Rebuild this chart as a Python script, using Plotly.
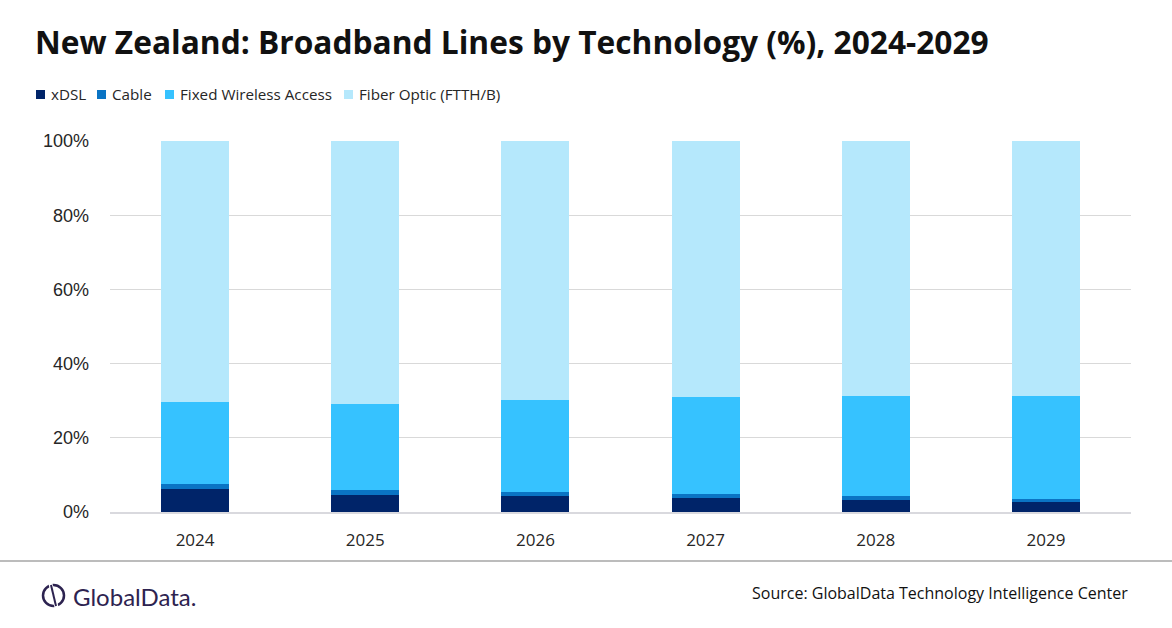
import plotly.graph_objects as go

years = ['2024', '2025', '2026', '2027', '2028', '2029']
xdsl = [6.2, 4.6, 4.3, 3.8, 3.2, 2.7]
cable = [1.3, 1.3, 1.1, 1.0, 1.1, 0.8]
fwa = [22.1, 23.1, 24.7, 26.1, 27.1, 27.9]
fiber = [70.4, 71.0, 69.9, 69.1, 68.6, 68.6]
y_ticks = [0, 20, 40, 60, 80, 100]
y_labels = ['0%', '20%', '40%', '60%', '80%', '100%']

series = [
    ('xDSL', xdsl, '#002469'),
    ('Cable', cable, '#0A74C4'),
    ('Fixed Wireless Access', fwa, '#36C2FF'),
    ('Fiber Optic (FTTH/B)', fiber, '#B5E8FC'),
]

W, H = 1172, 628
L, R, T, B = 110, 41, 141, 116
PW, PH = W - L - R, H - T - B


def px(x):
    return (x - L) / PW


def py(y):
    return (H - B - y) / PH


fig = go.Figure()
for name, vals, col in series:
    fig.add_trace(go.Bar(x=years, y=vals, name=name, marker_color=col, marker_line_width=0))

fig.update_layout(
    barmode='stack', bargap=0.6,
    width=W, height=H,
    margin=dict(l=L, r=R, t=T, b=B),
    paper_bgcolor='white', plot_bgcolor='white',
    font=dict(family='Liberation Sans', size=17, color='#262626'),
    title=dict(text='<b>New Zealand: Broadband Lines by Technology (%), 2024-2029</b>',
               x=35 / W, xanchor='left', y=1 - 43 / H, yanchor='middle',
               font=dict(family='Open Sans', size=31.7, color='#111111')),
    showlegend=False,
)
fig.update_yaxes(range=[0, 100], tickvals=y_ticks, ticktext=y_labels,
                 showgrid=True, gridcolor='#D9D9D9', gridwidth=1, zeroline=False,
                 showline=False, ticks='', ticklabelstandoff=20,
                 tickfont=dict(family='Liberation Sans', size=18, color='#262626'))
fig.update_xaxes(showline=True, linecolor='#D9D9DE', linewidth=1.5, ticks='',
                 tickfont=dict(family='Open Sans', size=17, color='#262626'), ticklabelstandoff=12)

# legend drawn by hand to match spacing
leg_sq = [36, 97, 165, 344]
for (name, vals, col), x0 in zip(series, leg_sq):
    fig.add_shape(type='rect', xref='paper', yref='paper',
                  x0=px(x0), x1=px(x0 + 9), y0=py(99), y1=py(90),
                  fillcolor=col, line_width=0)
    fig.add_annotation(text=name, xref='paper', yref='paper',
                       x=px(x0 + 13), xanchor='left', y=py(94), yanchor='middle',
                       showarrow=False, font=dict(family='Open Sans', size=15.2, color='#262626'))

# footer line
fig.add_shape(type='line', xref='paper', yref='paper', x0=px(0), x1=px(W),
              y0=py(561), y1=py(561), line=dict(color='#A6A6A6', width=1.5))

# logo
fig.add_shape(type='circle', xref='paper', yref='paper',
              x0=px(43), x1=px(64), y0=py(606), y1=py(585),
              line=dict(color='#2D2350', width=2.5))
fig.add_shape(type='line', xref='paper', yref='paper',
              x0=px(50), x1=px(57), y0=py(582), y1=py(609),
              line=dict(color='white', width=4))
fig.add_shape(type='line', xref='paper', yref='paper',
              x0=px(51), x1=px(56), y0=py(585), y1=py(606),
              line=dict(color='#2D2350', width=2))
fig.add_annotation(text='GlobalData.', xref='paper', yref='paper',
                   x=px(71), xanchor='left', y=py(596), yanchor='middle',
                   showarrow=False, font=dict(family='Lato', size=24, color='#2D2350'))

fig.add_annotation(text='Source: GlobalData Technology Intelligence Center', xref='paper', yref='paper',
                   x=px(1130), xanchor='right', y=py(593), yanchor='middle',
                   showarrow=False, font=dict(family='Open Sans', size=16, color='#111111'))

fig.write_html('out.html', config={'displayModeBar': False},
               post_script="document.body.style.margin='0';")
